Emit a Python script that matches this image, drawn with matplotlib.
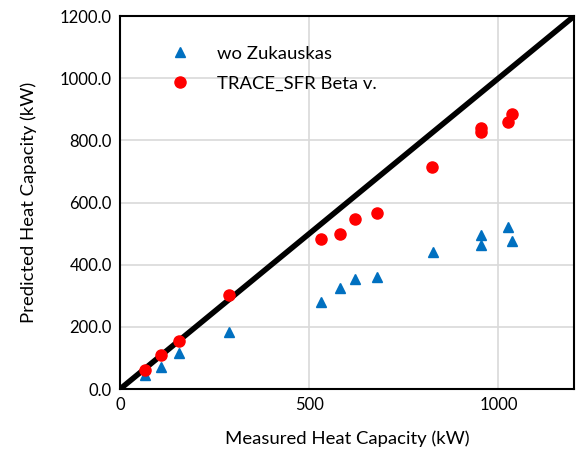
import matplotlib
matplotlib.use("Agg")
from matplotlib import pyplot as plt
from matplotlib.ticker import FormatStrFormatter

plt.rcParams['font.family'] = ['Lato', 'DejaVu Sans']

# measured / predicted heat capacity (kW)
meas_wo = [66, 108, 155, 287, 532, 582, 621, 679, 826, 953, 955, 1024, 1037]
pred_wo = [45, 71, 116, 183, 280, 325, 354, 360, 440, 463, 495, 521, 476]

meas_trace = [66, 108, 155, 287, 532, 582, 621, 679, 824, 953, 955, 1024, 1037]
pred_trace = [61, 109, 154, 302, 482, 498, 547, 566, 714, 826, 839, 858, 884]

diag = [0, 1200]

fig = plt.figure(figsize=(5.77, 4.61), dpi=100)
ax = fig.add_axes([0.208, 0.156, 0.787, 0.809])

ax.plot(diag, diag, color='black', lw=4, zorder=2)
ax.plot(meas_wo, pred_wo, '^', color='#0070C0', markersize=7, label='wo Zukauskas', zorder=3)
ax.plot(meas_trace, pred_trace, 'o', color='#FF0000', markersize=8, label='TRACE_SFR Beta v.', zorder=4)

ax.set_xlim(0, 1200)
ax.set_ylim(0, 1200)
ax.set_xticks([0, 500, 1000])
ax.set_yticks([0, 200, 400, 600, 800, 1000, 1200])
ax.yaxis.set_major_formatter(FormatStrFormatter('%.1f'))
ax.grid(True, color='#D9D9D9', lw=1.2, zorder=0)
ax.set_axisbelow(True)
ax.tick_params(length=0, labelsize=12, pad=6)
for s in ax.spines.values():
    s.set_linewidth(1.5)
    s.set_color('black')

ax.set_xlabel('Measured Heat Capacity (kW)', fontsize=13.3, labelpad=12)
ax.set_ylabel('Predicted Heat Capacity (kW)', fontsize=13.3, labelpad=16)

ax.legend(loc='upper left', bbox_to_anchor=(0.055, 0.965), frameon=False, fontsize=13.3,
          handletextpad=1.0, labelspacing=0.75)

fig.savefig('out.png', dpi=100)
